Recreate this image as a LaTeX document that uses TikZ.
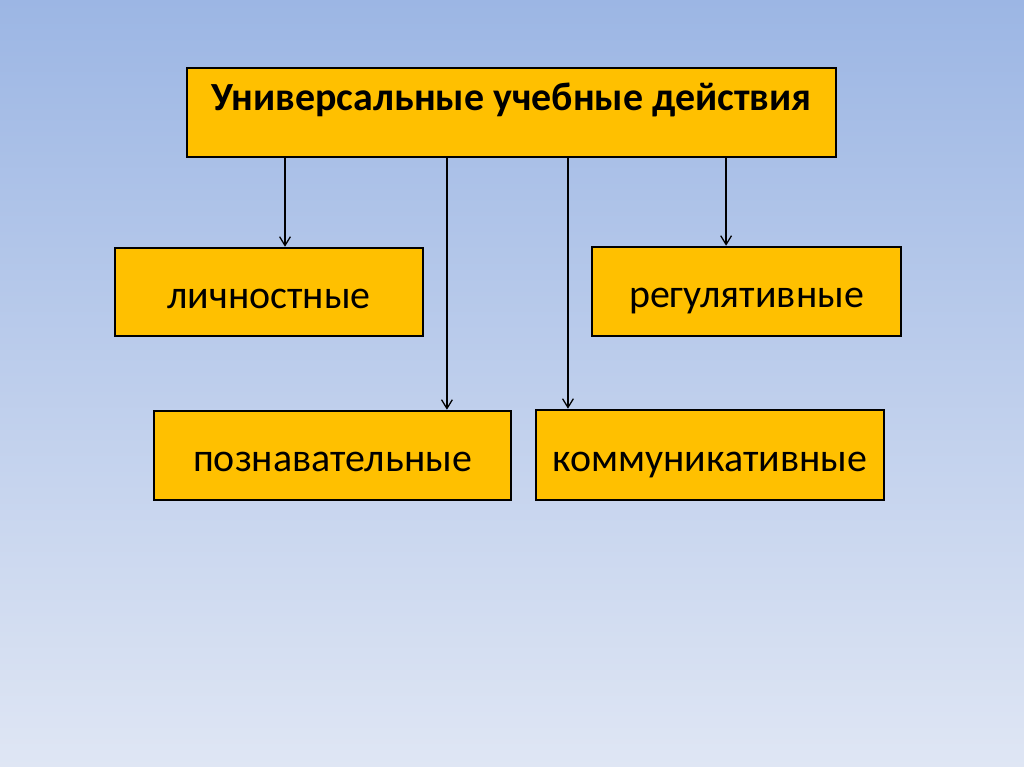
\documentclass[tikz,border=0pt]{standalone}
\usepackage{fontspec}
\setmainfont{Carlito}
\usepackage{xcolor}
\usetikzlibrary{arrows.meta,positioning,calc}
\definecolor{skyTop}{HTML}{9CB6E4}
\definecolor{skyBot}{HTML}{DFE6F4}
\definecolor{boxGold}{HTML}{FFC000}

\begin{document}
\begin{tikzpicture}[x=0.025cm,y=-0.025cm,
    uudbox/.style={draw=black,line width=1.8pt,fill=boxGold,
      font=\fontsize{28.4}{34}\selectfont,inner sep=0pt,
      text height=0.8cm,text depth=0pt},
    link/.style={-{Straight Barb[length=2.2mm,width=2.7mm]},line width=0.9pt}]
  \shade[top color=skyTop,bottom color=skyBot] (0,0) rectangle (1024,767);
  \useasboundingbox (0,0) rectangle (1024,767);

  \node[uudbox,minimum width=16.225cm,minimum height=2.225cm,
    text height=0.7cm,text depth=0.8cm,
    font=\fontsize{28.4}{34}\selectfont\bfseries]
    (uud) at (511.5,112.5) {Универсальные учебные действия};
  \node[uudbox,minimum width=7.7cm,minimum height=2.2cm]
    (lichn) at (269,292) {личностные};
  \node[uudbox,minimum width=7.725cm,minimum height=2.225cm]
    (regul) at (746.5,291.5) {регулятивные};
  \node[uudbox,minimum width=8.925cm,minimum height=2.225cm]
    (pozn) at (332.5,455.5) {познавательные};
  \node[uudbox,minimum width=8.7cm,minimum height=2.25cm]
    (komm) at (710,455) {коммуникативные};

  \draw[link] ([xshift=0.4cm]lichn.north |- uud.south)
    -- ([xshift=0.4cm]lichn.north);
  \draw[link] ([xshift=2.86cm]pozn.north |- uud.south)
    -- ([xshift=2.86cm]pozn.north);
  \draw[link] ([xshift=-3.55cm]komm.north |- uud.south)
    -- ([xshift=-3.55cm]komm.north);
  \draw[link] ([xshift=-0.51cm]regul.north |- uud.south)
    -- ([xshift=-0.51cm]regul.north);
\end{tikzpicture}
\end{document}
